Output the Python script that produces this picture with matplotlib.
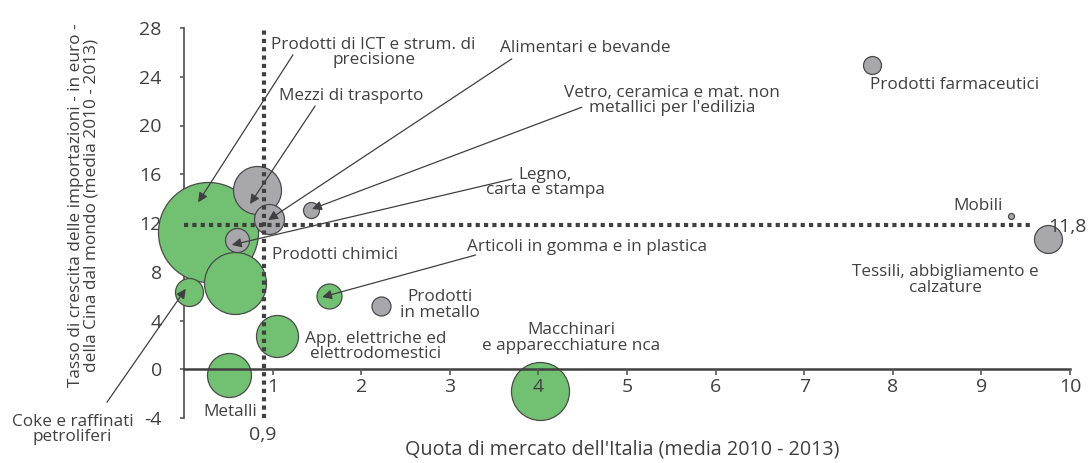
import numpy as np
import matplotlib.pyplot as plt

plt.rcParams['font.family'] = ['Open Sans', 'DejaVu Sans']

# settori: quota di mercato dell'Italia (x), crescita import Cina (y), dimensione bolla
settori = [
    "Prodotti di ICT e strum. di precisione", "Prodotti chimici",
    "Coke e raffinati petroliferi", "Metalli",
    "App. elettriche ed elettrodomestici", "Articoli in gomma e in plastica",
    "Macchinari e apparecchiature nca", "Mezzi di trasporto",
    "Alimentari e bevande", "Vetro, ceramica e mat. non metallici per l'edilizia",
    "Legno, carta e stampa", "Prodotti in metallo", "Prodotti farmaceutici",
    "Mobili", "Tessili, abbigliamento e calzature",
]
quota = [0.27, 0.58, 0.06, 0.51, 1.05, 1.64, 4.02, 0.82, 0.96, 1.43, 0.60, 2.22, 7.77, 9.33, 9.75]
crescita = [11.3, 7.1, 6.3, -0.5, 2.7, 6.0, -1.8, 14.7, 12.3, 13.1, 10.6, 5.2, 25.0, 12.6, 10.7]
dimensione = [50, 31, 14, 22, 21, 12.5, 29, 24, 15, 8, 12, 9.5, 9, 3, 14]
verde = [True] * 7 + [False] * 8

media_quota = 0.9
media_crescita = 11.8

GREEN = '#72c172'
GREY = '#a7a7ac'
DARK = '#404040'

fig = plt.figure(figsize=(10.9, 4.63), dpi=100)
ax = fig.add_axes([184 / 1090, 45 / 463, 886 / 1090, 390 / 463])
ax.set_xlim(0, 10)
ax.set_ylim(-4, 28)

# bubbles (radius in px -> marker area in pt^2)
for x, y, r, g in zip(quota, crescita, dimensione, verde):
    ax.scatter(x, y, s=(2 * r * 0.72) ** 2, color=GREEN if g else GREY,
               edgecolor='#4a4a4a', linewidth=0.9, zorder=3, clip_on=False)

# dotted average lines
ax.plot([media_quota, media_quota], [-4, 28], color=DARK, lw=3,
        linestyle=(0, (1, 1)), zorder=4, clip_on=False)
ax.plot([0, 9.56], [media_crescita, media_crescita], color=DARK, lw=3,
        linestyle=(0, (1, 1)), zorder=4, clip_on=False)

# spines / ticks
for s in ['top', 'right']:
    ax.spines[s].set_visible(False)
ax.spines['left'].set_color('#595959')
ax.spines['left'].set_linewidth(1.3)
ax.spines['bottom'].set_position(('data', 0))
ax.spines['bottom'].set_color(DARK)
ax.spines['bottom'].set_linewidth(1.8)
ax.spines['bottom'].set_zorder(5)
ax.xaxis.set_zorder(5)

ax.set_yticks(np.arange(-4, 29, 4))
ax.set_yticklabels([str(v) for v in range(-4, 29, 4)])
ax.set_xticks(range(1, 11))
ax.tick_params(axis='both', colors='#595959', labelcolor=DARK, labelsize=14,
               width=1.2)
ax.tick_params(axis='x', length=4, pad=2)
ax.tick_params(axis='y', length=3, pad=13)

fs = 12.3
txt = dict(fontsize=fs, color=DARK, zorder=6)
arrow = dict(arrowstyle='-|>', color=DARK, lw=0.9, shrinkA=0, shrinkB=0,
             mutation_scale=14)


def freccia(tail, head):
    ax.annotate('', xy=head, xytext=tail, arrowprops=arrow, zorder=5,
                annotation_clip=False)


ax.text(2.14, 25.97, "Prodotti di ICT e strum. di\nprecisione", ha='center',
        va='center', linespacing=0.95, **txt)
freccia((1.23, 25.8), (0.16, 13.7))

ax.text(1.885, 22.43, "Mezzi di trasporto", ha='center', va='center', **txt)
freccia((1.48, 21.6), (0.745, 13.56))

ax.text(4.53, 26.4, "Alimentari e bevande", ha='center', va='center', **txt)
freccia((3.70, 25.47), (0.95, 12.24))

ax.text(5.51, 22.03, "Vetro, ceramica e mat. non\nmetallici per l'edilizia",
        ha='center', va='center', linespacing=0.95, **txt)
freccia((4.49, 21.5), (1.445, 13.15))

ax.text(4.08, 15.3, "Legno,\ncarta e stampa", ha='center', va='center',
        linespacing=0.95, **txt)
freccia((3.70, 15.6), (0.54, 10.2))

ax.text(4.55, 10.02, "Articoli in gomma e in plastica", ha='center',
        va='center', **txt)
freccia((3.29, 9.37), (1.56, 5.92))

ax.text(-1.26, -4.93, "Coke e raffinati\npetroliferi", ha='center', va='center',
        linespacing=0.95, clip_on=False, **txt)
freccia((-0.87, -2.71), (0.02, 6.6))

ax.text(0.993, 9.37, "Prodotti chimici", ha='left', va='center', **txt)
ax.text(2.89, 5.26, "Prodotti\nin metallo", ha='center', va='center',
        linespacing=0.95, **txt)
ax.text(2.16, 1.89, "App. elettriche ed\nelettrodomestici", ha='center',
        va='center', linespacing=0.95, **txt)
ax.text(4.37, 2.55, "Macchinari\ne apparecchiature nca", ha='center',
        va='center', linespacing=0.95, **txt)
ax.text(0.52, -3.5, "Metalli", ha='center', va='center', **txt)
ax.text(7.74, 23.34, "Prodotti farmaceutici", ha='left', va='center', **txt)
ax.text(9.24, 13.39, "Mobili", ha='right', va='center', **txt)
ax.text(8.59, 7.31, "Tessili, abbigliamento e\ncalzature", ha='center',
        va='center', linespacing=0.95, **txt)

ax.text(9.75, 11.67, "11,8", ha='left', va='center', fontsize=14,
        color=DARK, clip_on=False)
ax.text(0.89, -5.42, "0,9", ha='center', va='center', fontsize=14,
        color=DARK, clip_on=False)

fig.text(622 / 1090, 0.030, "Quota di mercato dell'Italia (media 2010 - 2013)",
         ha='center', va='center', fontsize=14.2, color=DARK)
fig.text(84 / 1090, (463 - 205) / 463,
         "Tasso di crescita delle importazioni - in euro -\n"
         "della Cina dal mondo (media 2010 - 2013)",
         ha='center', va='center', rotation=90, fontsize=12.4, color=DARK,
         linespacing=1.0)

fig.savefig("out.png", dpi=100)
